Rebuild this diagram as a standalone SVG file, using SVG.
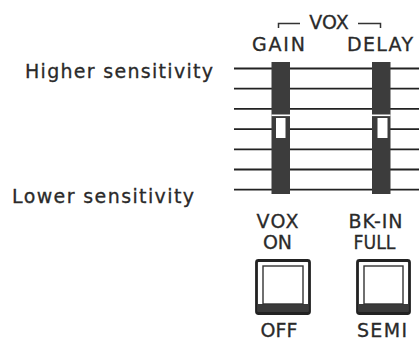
<svg xmlns="http://www.w3.org/2000/svg" width="419" height="341" viewBox="0 0 419 341">
<style>
.t{font-family:"DejaVu Sans","Liberation Sans",sans-serif;font-size:19px;fill:#2a2a2a;stroke:#2a2a2a;stroke-width:0.3}
.c{text-anchor:middle}
.ln{stroke:#222;stroke-width:1.8;fill:none}
.bar{fill:#3c3c3c}
.knob{fill:#fff}
.outer{fill:#fff;stroke:#222;stroke-width:2.8}
.inner{fill:#fff;stroke:#333;stroke-width:1.4}
.band{fill:#3a3a3a}
.br{stroke:#333;stroke-width:1.5;fill:none}
</style>
<rect width="419" height="341" fill="#fff"/>
<g id="side-labels">
<text class="t" x="25" y="78" textLength="188" lengthAdjust="spacing">Higher sensitivity</text>
<text class="t" x="12" y="203" textLength="182" lengthAdjust="spacing">Lower sensitivity</text>
</g>
<g id="vox-header">
<path class="br" d="M278.5,28 V23.5 H300 M358,23.5 H380.5 V28"/>
<text class="t c" x="329" y="29" font-size="18">VOX</text>
</g>
<g id="scale-lines">
<path class="ln" d="M234,68.5 H419 M234,88.7 H419 M234,108.9 H419 M234,129.1 H419 M234,149.3 H419 M234,169.5 H419 M234,189.7 H419"/>
</g>
<g id="gain-slider">
<text class="t c" x="278.5" y="51" textLength="53" lengthAdjust="spacing">GAIN</text>
<rect class="bar" x="271.5" y="62" width="18.5" height="132"/>
<rect class="knob" x="271.5" y="114.5" width="18.5" height="1.6"/>
<rect class="knob" x="276" y="118" width="9.5" height="20"/>
</g>
<g id="delay-slider">
<text class="t c" x="380" y="51" textLength="66" lengthAdjust="spacing">DELAY</text>
<rect class="bar" x="372" y="62" width="18.5" height="132"/>
<rect class="knob" x="372" y="114.5" width="18.5" height="1.6"/>
<rect class="knob" x="377.5" y="118" width="10" height="20"/>
</g>
<g id="vox-button">
<text class="t c" x="277.5" y="228" textLength="42" lengthAdjust="spacing">VOX</text>
<text class="t c" x="277.5" y="249">ON</text>
<rect class="outer" x="256.5" y="260.5" width="53" height="53" rx="2"/>
<rect class="band" x="258" y="304" width="50" height="8"/>
<rect class="inner" x="263" y="266" width="40" height="38"/>
<text class="t c" x="279" y="337">OFF</text>
</g>
<g id="bkin-button">
<text class="t c" x="375.5" y="228" textLength="54" lengthAdjust="spacing">BK-IN</text>
<text class="t c" x="374.5" y="249" textLength="42" lengthAdjust="spacingAndGlyphs">FULL</text>
<rect class="outer" x="357.5" y="260.5" width="52" height="53" rx="2"/>
<rect class="band" x="359" y="304" width="49" height="8"/>
<rect class="inner" x="364" y="266" width="39" height="38"/>
<text class="t c" x="382" y="337" textLength="50" lengthAdjust="spacing">SEMI</text>
</g>
</svg>
